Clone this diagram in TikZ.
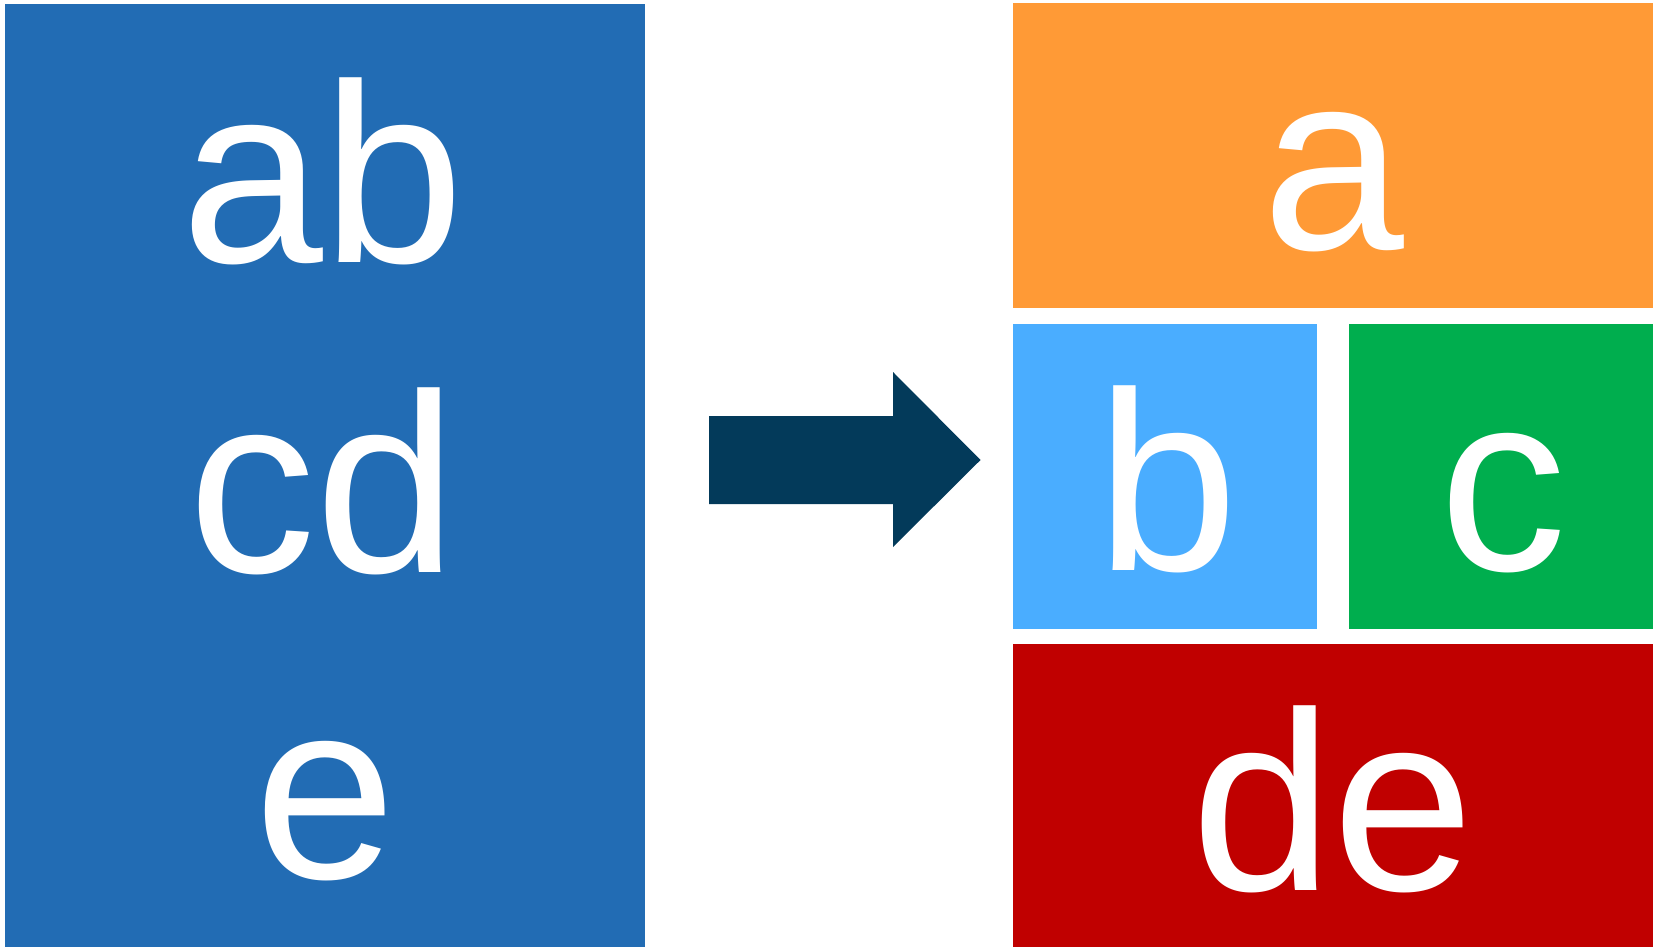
\documentclass[tikz,border=0pt]{standalone}
\usepackage{fontspec}
\setmainfont{Liberation Sans}
\definecolor{srcblue}{HTML}{226CB4}
\definecolor{partorange}{HTML}{FF9A36}
\definecolor{partsky}{HTML}{4AADFF}
\definecolor{partgreen}{HTML}{00AE4E}
\definecolor{partred}{HTML}{C00000}
\definecolor{arrownavy}{HTML}{033A5A}
\begin{document}
\begin{tikzpicture}[x=1pt,y=-1pt,
  lbl/.style={text=white,anchor=base,inner sep=0pt,font=\fontsize{255}{300}\selectfont}]
\useasboundingbox (0,0) rectangle (1657,947);
% source block
\fill[srcblue] (5,4) rectangle (645,947);
% split blocks
\fill[partorange] (1013,3) rectangle (1653,307.5);
\fill[partsky] (1013,324) rectangle (1317,629);
\fill[partgreen] (1349,324) rectangle (1653,629);
\fill[partred] (1013,643.5) rectangle (1653,947);
% block arrow
\fill[arrownavy] (709,416) -- (893,416) -- (893,372) -- (980.5,460)
  -- (893,547) -- (893,504) -- (709,504) -- cycle;
% labels
\node[lbl] (ab) at (323,262) {ab};
\node[lbl] (cd) at (323,572) {cd};
\node[lbl] (e) at (325,878) {e};
\node[lbl] (a) at (1333,249) {a};
\node[lbl] (b) at (1167,570) {b};
\node[lbl] (c) at (1503,570) {c};
\node[lbl] (de) at (1333,890) {de};
\end{tikzpicture}
\end{document}
